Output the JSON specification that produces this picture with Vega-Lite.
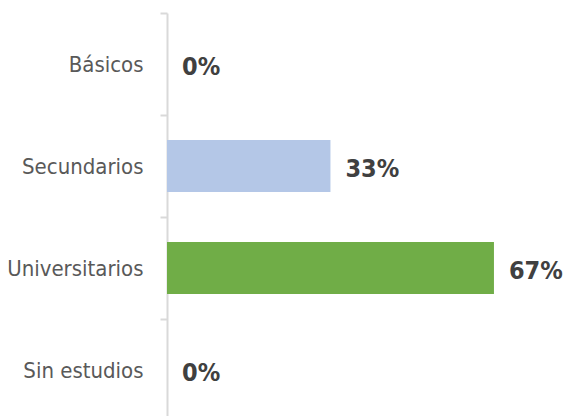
{
  "$schema": "https://vega.github.io/schema/vega-lite/v6.json",
  "autosize": {"type": "none"},
  "padding": {"left": 167, "top": 13, "right": 0, "bottom": 0},
  "width": 409,
  "height": 408,
  "background": "white",
  "config": {"view": {"stroke": null}},
  "data": {"values": [
    {"nivel": "Básicos", "pct": 0},
    {"nivel": "Secundarios", "pct": 0.3333},
    {"nivel": "Universitarios", "pct": 0.6667},
    {"nivel": "Sin estudios", "pct": 0}
  ]},
  "encoding": {
    "y": {
      "field": "nivel", "type": "nominal", "sort": null,
      "scale": {"paddingInner": 0, "paddingOuter": 0},
      "axis": {
        "title": null,
        "bandPosition": 0,
        "domainColor": "#d9d9d9", "domainWidth": 2,
        "tickColor": "#d9d9d9", "tickWidth": 2, "tickSize": 7,
        "labelFont": "DejaVu Sans Condensed", "labelFontSize": 22,
        "labelColor": "#595959", "labelPadding": 17, "labelLimit": 200,
        "labelOffset": 1
      }
    },
    "x": {
      "field": "pct", "type": "quantitative",
      "scale": {"domain": [0, 0.834], "nice": false},
      "axis": null
    }
  },
  "layer": [
    {
      "mark": {"type": "bar", "height": {"band": 0.51}},
      "encoding": {
        "color": {
          "field": "nivel", "type": "nominal",
          "scale": {"domain": ["Básicos", "Secundarios", "Universitarios", "Sin estudios"],
                    "range": ["#4472c4", "#b4c7e7", "#70ad47", "#a5a5a5"]},
          "legend": null
        }
      }
    },
    {
      "mark": {"type": "text", "align": "left", "baseline": "middle", "dx": 15, "dy": 3,
               "font": "DejaVu Sans Condensed", "fontWeight": "bold", "fontSize": 25, "color": "#404040"},
      "encoding": {
        "text": {"field": "pct", "type": "quantitative", "format": ".0%"}
      }
    }
  ]
}
